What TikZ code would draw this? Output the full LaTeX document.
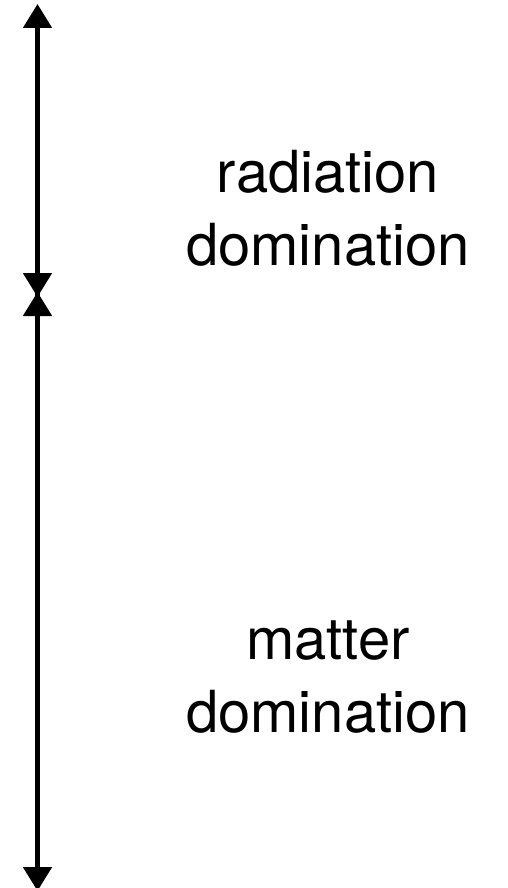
\documentclass[tikz,border=0pt]{standalone}
\usepackage{fontspec}
\setmainfont{TeX Gyre Heros}
\usetikzlibrary{arrows.meta}
\begin{document}
\begin{tikzpicture}[x=1pt,y=-1pt,
  era/.style={line width=5pt,-{Triangle[width=28pt,length=24pt]}},
  lbl/.style={inner sep=0pt,anchor=south,align=center,font=\fontsize{58}{72.7}\selectfont}]
  \useasboundingbox (0,0) rectangle (507,888);
  \coordinate (top) at (37.5,4);
  \coordinate (midA) at (37.5,297);
  \coordinate (midB) at (37.5,292);
  \coordinate (bot) at (37.5,891);
  \coordinate (c) at (37.5,294.5);
  \draw[era] (c) -- (top);
  \draw[era] (c) -- (midA);
  \draw[era] (c) -- (midB);
  \draw[era] (c) -- (bot);
  \node[lbl] (rad) at (328,266.7) {radiation\\domination};
  \node[lbl] (mat) at (328,733.3) {matter\\domination};
\end{tikzpicture}
\end{document}
